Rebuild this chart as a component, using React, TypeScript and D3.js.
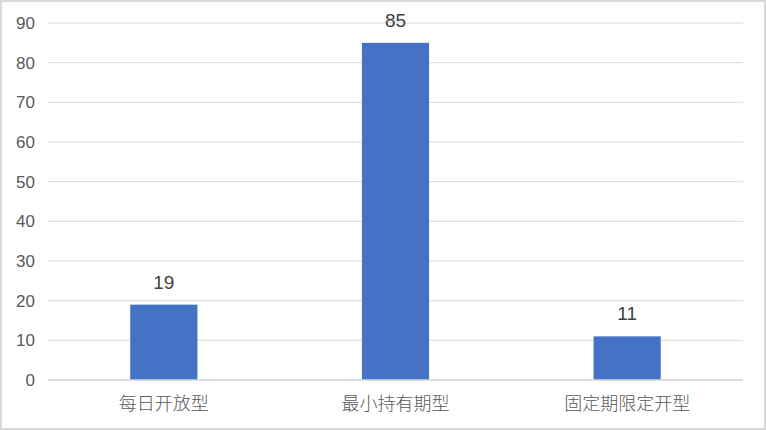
import React from 'react';
import * as d3 from 'd3';

const categories = ['每日开放型', '最小持有期型', '固定期限定开型'];
const values = [19, 85, 11];
const yTicks = [0, 10, 20, 30, 40, 50, 60, 70, 80, 90];

const W = 766;
const H = 430;
const margin = { top: 23, right: 23, bottom: 50, left: 48 };
const FONT = '"Liberation Sans", Arial, "Noto Sans CJK SC", sans-serif';

export default function App() {
  const x = d3.scaleBand<string>()
    .domain(categories)
    .range([margin.left, W - margin.right])
    .paddingInner(0.71)
    .paddingOuter(0.355);

  const y = d3.scaleLinear()
    .domain([0, 90])
    .range([H - margin.bottom, margin.top]);

  return (
    <svg width={W} height={H} style={{ position: 'absolute', left: 0, top: 0 }} fontFamily={FONT}>
      <rect x={1} y={1} width={W - 2} height={H - 2} fill="#fff" stroke="#d9d9d9" strokeWidth={2} />

      {/* gridlines + y tick labels */}
      {yTicks.map(t => (
        <g key={t}>
          <line x1={margin.left} x2={W - margin.right} y1={y(t)} y2={y(t)} stroke="#d9d9d9" strokeWidth={1} />
          <text x={35} y={y(t)} dy="0.36em" textAnchor="end" fontSize={17} fill="#595959">{t}</text>
        </g>
      ))}

      {/* bars */}
      {categories.map((c, i) => (
        <g key={c}>
          <rect
            x={x(c)!}
            y={y(values[i])}
            width={x.bandwidth()}
            height={y(0) - y(values[i])}
            fill="#4472c4"
          />
          <text
            x={x(c)! + x.bandwidth() / 2}
            y={y(values[i]) - 16}
            textAnchor="middle"
            fontSize={19}
            fill="#404040"
          >{values[i]}</text>
          <text
            x={x(c)! + x.bandwidth() / 2}
            y={410}
            textAnchor="middle"
            fontSize={18}
            fill="#595959"
            fontFamily='"Noto Sans CJK SC", sans-serif'
            fontWeight={300}
          >{c}</text>
        </g>
      ))}

      {/* baseline */}
      <line x1={margin.left} x2={W - margin.right} y1={y(0)} y2={y(0)} stroke="#d9d9d9" strokeWidth={1.5} />
    </svg>
  );
}
